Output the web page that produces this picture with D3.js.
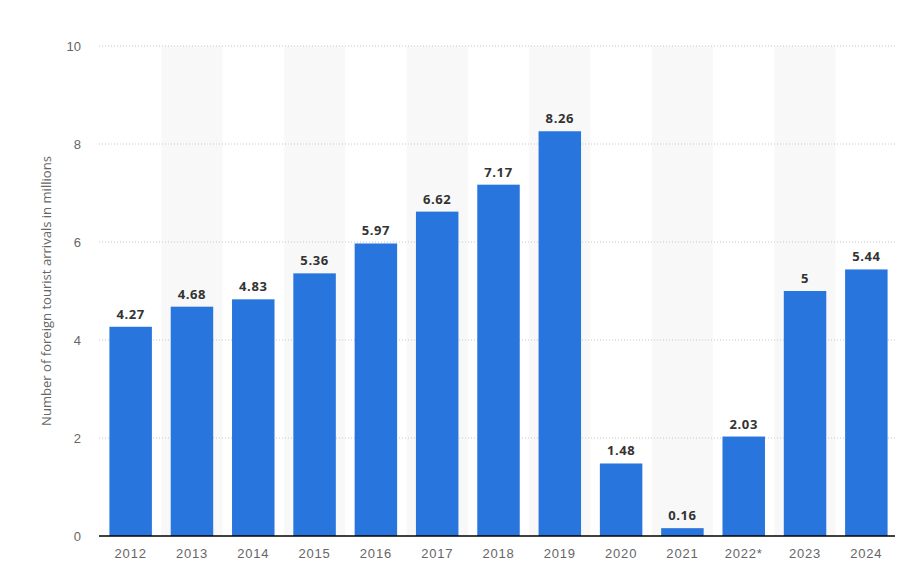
<!DOCTYPE html>
<html>
<head>
<meta charset="utf-8">
<script src="https://cdn.jsdelivr.net/npm/d3@7"></script>
<style>
  body { margin: 0; background: #fff; }
  svg { display: block; font-family: "Open Sans", sans-serif; }
</style>
</head>
<body>
<div class="chart"></div>
<script>
// data
var years = ['2012', '2013', '2014', '2015', '2016', '2017', '2018', '2019', '2020', '2021', '2022*', '2023', '2024'];
var arrivals = [4.27, 4.68, 4.83, 5.36, 5.97, 6.62, 7.17, 8.26, 1.48, 0.16, 2.03, 5, 5.44];
var yTicks = [0, 2, 4, 6, 8, 10];
var yTitle = 'Number of foreign tourist arrivals in millions';

var svgWidth = 902;
var svgHeight = 583;
var margin = { top: 46, bottom: 47, left: 100, right: 5 };
var width = svgWidth - margin.left - margin.right;
var height = svgHeight - margin.top - margin.bottom;

var dataset = years.map(function (y, i) { return { year: y, value: arrivals[i] }; });

var svg = d3.select('div.chart')
    .append('svg')
    .attr('width', svgWidth)
    .attr('height', svgHeight);

var chart = svg.append('g')
    .attr('transform', 'translate(' + margin.left + ',' + margin.top + ')');

var x = d3.scaleBand()
    .domain(years)
    .range([0, width])
    .paddingInner(0.307)
    .paddingOuter(0.1535);

var y = d3.scaleLinear()
    .domain([0, 10])
    .range([height, 0]);

var step = x.step();

// alternating column shading
chart.append('g')
    .selectAll('rect')
    .data(dataset.filter(function (d, i) { return i % 2 == 1; }))
    .enter()
    .append('rect')
    .attr('x', function (d) { return x(d.year) + x.bandwidth() / 2 - step / 2; })
    .attr('y', 0)
    .attr('width', step)
    .attr('height', height)
    .style('fill', '#f8f8f8');

// dotted grid lines
chart.append('g')
    .selectAll('line')
    .data(yTicks.slice(1))
    .enter()
    .append('line')
    .attr('x1', -1)
    .attr('x2', width - 2)
    .attr('y1', function (d) { return y(d); })
    .attr('y2', function (d) { return y(d); })
    .style('stroke', '#c8c8c8')
    .style('stroke-width', 1)
    .style('stroke-dasharray', '1,2');

// bars
chart.append('g')
    .selectAll('rect')
    .data(dataset)
    .enter()
    .append('rect')
    .attr('x', function (d) { return x(d.year); })
    .attr('y', function (d) { return y(d.value); })
    .attr('width', x.bandwidth())
    .attr('height', function (d) { return height - y(d.value); })
    .style('fill', '#2876dd');

// value labels
chart.append('g')
    .selectAll('text')
    .data(dataset)
    .enter()
    .append('text')
    .attr('x', function (d) { return x(d.year) + x.bandwidth() / 2; })
    .attr('y', function (d) { return y(d.value) - 8; })
    .attr('text-anchor', 'middle')
    .style('font-size', '13px')
    .style('font-weight', 'bold')
    .style('letter-spacing', '0.6px')
    .style('fill', '#333')
    .text(function (d) { return d.value; });

// y axis
var y_axis = d3.axisLeft(y).tickValues(yTicks).tickSize(0).tickPadding(19);
var yg = chart.append('g').call(y_axis);
yg.select('.domain').remove();
yg.selectAll('text').style('font-size', '13px').style('fill', '#666');

// x axis
var x_axis = d3.axisBottom(x).tickSize(0).tickPadding(13);
var xg = chart.append('g')
    .attr('transform', 'translate(0,' + height + ')')
    .call(x_axis);
xg.select('.domain').remove();
xg.selectAll('text')
    .style('font-size', '13px')
    .style('letter-spacing', '0.8px')
    .style('fill', '#666');

// baseline
chart.append('line')
    .attr('x1', -1)
    .attr('x2', width - 2)
    .attr('y1', height)
    .attr('y2', height)
    .style('stroke', '#000')
    .style('stroke-width', 1.5);

// y axis title, sized so it runs about 270px like the original
var title = svg.append('text')
    .attr('transform', 'translate(51,291) rotate(-90)')
    .attr('text-anchor', 'middle')
    .style('font-size', '13px')
    .style('fill', '#666')
    .text(yTitle);
var len = title.node().getComputedTextLength();
title.style('font-size', (13 * 270 / len) + 'px');
</script>
</body>
</html>
